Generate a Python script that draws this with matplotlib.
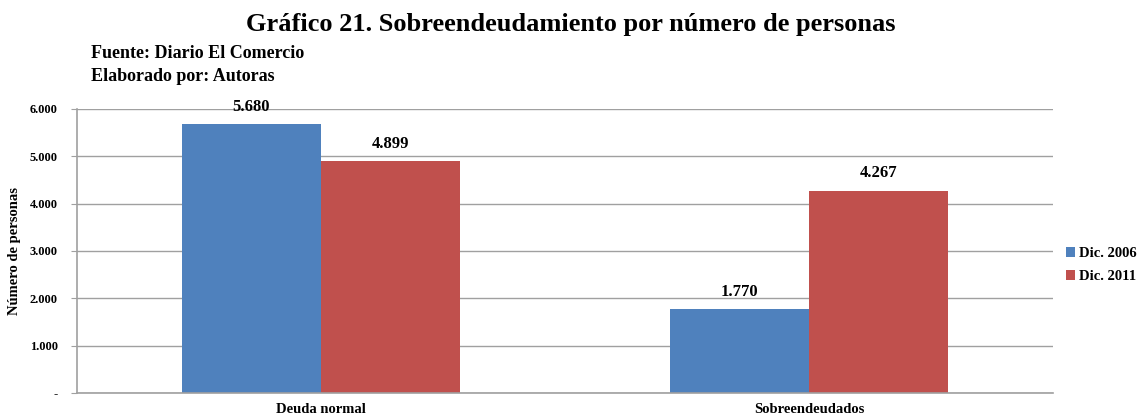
import matplotlib
matplotlib.use('Agg')
from matplotlib import pyplot as plt
import numpy as np

plt.rcParams['font.family'] = ['Liberation Serif', 'DejaVu Serif']

categorias = ['Deuda normal', 'Sobreendeudados']
series = ['Dic. 2006', 'Dic. 2011']
dic_2006 = [5680, 1770]
dic_2011 = [4899, 4267]
yticks = [0, 1000, 2000, 3000, 4000, 5000, 6000]
ytick_labels = ['-', '1.000', '2.000', '3.000', '4.000', '5.000', '6.000']
colores = ['#4F81BD', '#C0504D']


def fmt(v):
    return '{:,}'.format(v).replace(',', '.')


fig = plt.figure(figsize=(11.41, 4.16), dpi=100)
ax = fig.add_axes([0.0675, 0.0553, 0.8555, 0.683])

z = np.arange(len(categorias))
w = 0.285
b1 = ax.bar(z - w / 2, dic_2006, width=w, color=colores[0], label=series[0], zorder=2)
b2 = ax.bar(z + w / 2, dic_2011, width=w, color=colores[1], label=series[1], zorder=2)

for bars, vals in [(b1, dic_2006), (b2, dic_2011)]:
    for r, v in zip(bars, vals):
        ax.text(r.get_x() + r.get_width() / 2, v + 200, fmt(v),
                ha='center', va='bottom', fontsize=12, fontweight='bold')

ax.set_xlim(-0.5, 1.5)
ax.set_ylim(0, 6000)
ax.set_yticks(yticks)
ax.set_yticklabels(ytick_labels, fontsize=9, fontweight='bold')
ax.set_xticks(z)
ax.set_xticklabels(categorias, fontsize=10.5, fontweight='bold')
ax.tick_params(axis='x', length=0, pad=7)
ax.tick_params(axis='y', length=4, color='#A0A0A0', pad=10)
ax.grid(axis='y', color='#A0A0A0', linewidth=1, zorder=0)
for s in ['top', 'right']:
    ax.spines[s].set_visible(False)
for s in ['left', 'bottom']:
    ax.spines[s].set_color('#A0A0A0')
    ax.spines[s].set_linewidth(1.2)
ax.set_ylabel('Número de personas', fontsize=10.5, fontweight='bold', labelpad=6)

ax.legend(loc='center left', bbox_to_anchor=(1.0, 0.45), frameon=False,
          prop={'size': 10.5, 'weight': 'bold'}, handlelength=0.6, handleheight=0.6,
          handletextpad=0.3, labelspacing=0.7)

fig.text(0.5, 0.925, 'Gráfico 21. Sobreendeudamiento por número de personas',
         ha='center', fontsize=19, fontweight='bold')
fig.text(0.08, 0.86, 'Fuente: Diario El Comercio', fontsize=13, fontweight='bold')
fig.text(0.08, 0.805, 'Elaborado por: Autoras', fontsize=13, fontweight='bold')

plt.savefig('out.png', dpi=100, facecolor='white')
